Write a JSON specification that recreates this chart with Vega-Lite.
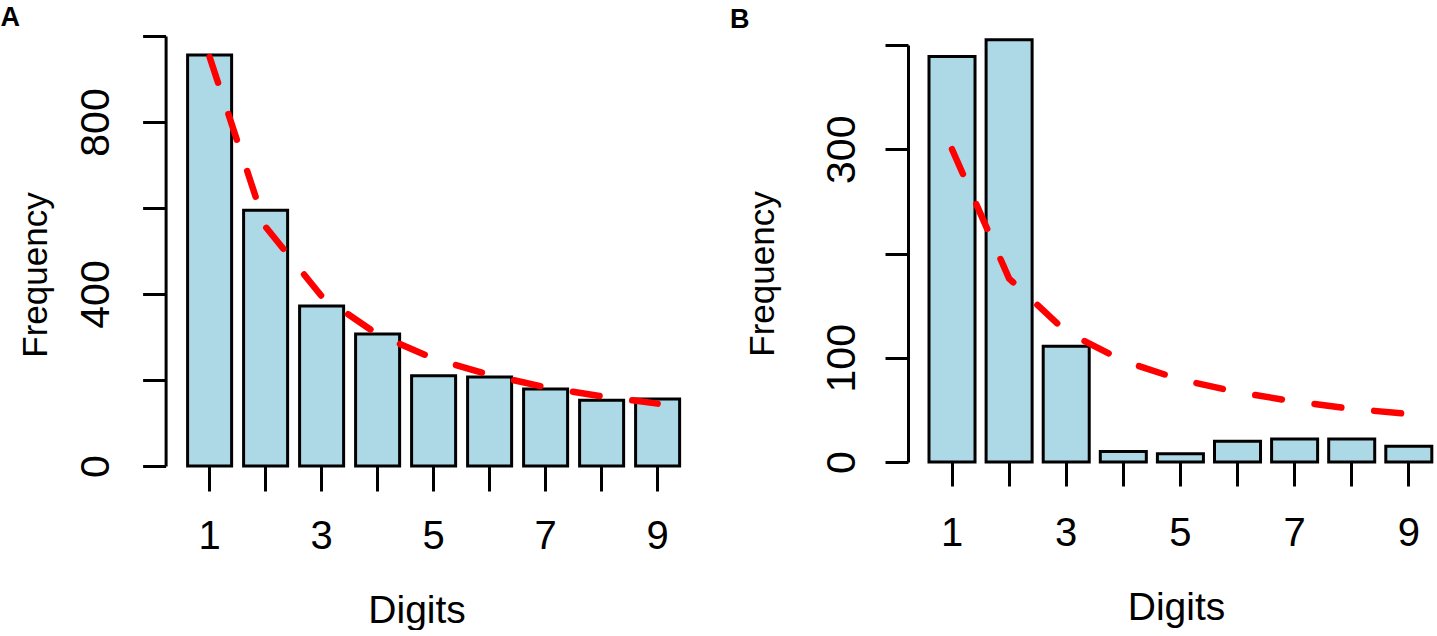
{
  "$schema": "https://vega.github.io/schema/vega-lite/v6.json",
  "background": "white",
  "padding": {"left": 0, "top": 4, "right": 0, "bottom": 0},
  "spacing": 44,
  "config": {
    "font": "Liberation Sans",
    "view": {"stroke": null},
    "axis": {"grid": false, "domainColor": "black", "tickColor": "black", "labelColor": "black", "titleColor": "black", "titleFontWeight": "normal"},
    "title": {"fontSize": 27, "fontWeight": "bold", "anchor": "start", "color": "black", "offset": 2.5}
  },
  "hconcat": [
    {
      "title": {"text": "A", "dx": -18},
      "width": {"step": 56},
      "height": 430,
      "data": {"values": [
        {"digit": 1, "observed": 956, "expected": 951},
        {"digit": 2, "observed": 595, "expected": 556},
        {"digit": 3, "observed": 372, "expected": 395},
        {"digit": 4, "observed": 307, "expected": 306},
        {"digit": 5, "observed": 210, "expected": 250},
        {"digit": 6, "observed": 207, "expected": 212},
        {"digit": 7, "observed": 179, "expected": 183},
        {"digit": 8, "observed": 153, "expected": 162},
        {"digit": 9, "observed": 156, "expected": 145}
      ]},
      "encoding": {
        "x": {"field": "digit", "type": "ordinal", "title": "Digits",
          "scale": {"paddingInner": 0.214, "paddingOuter": 0.1},
          "axis": {"domain": false, "tickSize": 25, "tickWidth": 3, "labelAngle": 0, "labelFontSize": 40, "labelPadding": 25,
            "labelExpr": "datum.value % 2 == 1 ? datum.label : ''", "titleFontSize": 39, "titlePadding": 35, "titleX": 234.6}}
      },
      "layer": [
        {
          "mark": {"type": "bar", "fill": "#ADD8E6", "stroke": "black", "strokeWidth": 3},
          "encoding": {
            "y": {"field": "observed", "type": "quantitative", "title": "Frequency",
              "scale": {"domain": [0, 1000], "nice": false},
              "axis": {"values": [0, 200, 400, 600, 800, 1000], "offset": 16.4, "domainWidth": 3, "tickWidth": 3, "tickSize": 23,
                "labelAngle": -90, "labelAlign": "center", "labelBaseline": "alphabetic", "labelFontSize": 41, "labelPadding": 34,
                "labelExpr": "datum.value % 400 == 0 ? datum.label : ''",
                "titleFontSize": 35, "titlePadding": 22, "titleY": 238.5}}
          }
        },
        {
          "mark": {"type": "line", "color": "#FF0000", "strokeWidth": 6.5, "strokeDash": [27, 33], "strokeCap": "round"},
          "encoding": {"y": {"field": "expected", "type": "quantitative", "title": "Frequency"}}
        }
      ]
    },
    {
      "title": {"text": "B", "dx": -15},
      "width": {"step": 57.1},
      "height": 426,
      "data": {"values": [
        {"digit": 1, "observed": 389, "expected": 300},
        {"digit": 2, "observed": 405, "expected": 176},
        {"digit": 3, "observed": 111, "expected": 125},
        {"digit": 4, "observed": 10, "expected": 97},
        {"digit": 5, "observed": 8, "expected": 79},
        {"digit": 6, "observed": 20, "expected": 67},
        {"digit": 7, "observed": 22, "expected": 58},
        {"digit": 8, "observed": 22, "expected": 51},
        {"digit": 9, "observed": 15, "expected": 46}
      ]},
      "encoding": {
        "x": {"field": "digit", "type": "ordinal", "title": "Digits",
          "scale": {"paddingInner": 0.194, "paddingOuter": 0.07},
          "axis": {"domain": false, "tickSize": 24, "tickWidth": 3, "labelAngle": 0, "labelFontSize": 40, "labelPadding": 27,
            "labelExpr": "datum.value % 2 == 1 ? datum.label : ''", "titleFontSize": 39, "titlePadding": 35, "titleX": 251}}
      },
      "layer": [
        {
          "mark": {"type": "bar", "fill": "#ADD8E6", "stroke": "black", "strokeWidth": 3},
          "encoding": {
            "y": {"field": "observed", "type": "quantitative", "title": "Frequency",
              "scale": {"domain": [0, 400], "nice": false, "range": [426, 9]},
              "axis": {"values": [0, 100, 200, 300, 400], "offset": 17, "domainWidth": 3, "tickWidth": 3, "tickSize": 23,
                "labelAngle": -90, "labelAlign": "center", "labelBaseline": "alphabetic", "labelFontSize": 41, "labelPadding": 31,
                "labelExpr": "indexof([0, 100, 300], datum.value) >= 0 ? datum.label : ''",
                "titleFontSize": 35, "titlePadding": 41, "titleY": 237.5}}
          }
        },
        {
          "mark": {"type": "line", "color": "#FF0000", "strokeWidth": 6.5, "strokeDash": [27, 33], "strokeCap": "round"},
          "encoding": {"y": {"field": "expected", "type": "quantitative", "title": "Frequency"}}
        }
      ]
    }
  ]
}
